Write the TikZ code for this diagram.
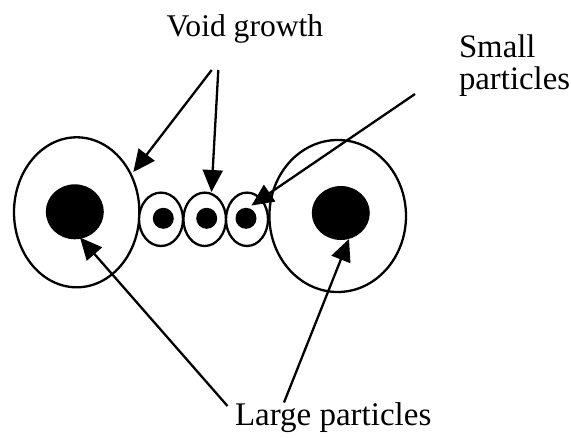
\documentclass[tikz,border=0pt]{standalone}
\usepackage{fontspec}
\setmainfont{Liberation Serif}
\usetikzlibrary{arrows.meta,shapes.geometric}
\begin{document}
\begin{tikzpicture}[x=1pt,y=-1pt,
  void/.style={ellipse,draw,line width=2.3pt,inner sep=0pt,outer sep=0pt,fill=white},
  particle/.style={ellipse,fill=black,inner sep=0pt,outer sep=0pt},
  pointer/.style={line width=2.3pt,-{Triangle[length=22pt,width=20pt]}},
  lbl/.style={anchor=base west,inner sep=0pt,outer sep=0pt,align=left}
]
\useasboundingbox (0,0) rectangle (571,437);
% large voids and particles
\node[void,minimum width=125.4pt,minimum height=150pt] (lvoid) at (76.7,212.3) {};
\node[particle,minimum width=58pt,minimum height=55pt] (lpart) at (74.8,211.8) {};
\node[void,minimum width=136.6pt,minimum height=152pt] (rvoid) at (337.7,216) {};
\node[particle,minimum width=58pt,minimum height=54pt] (rpart) at (340.8,213) {};
% small voids and particles
\node[void,minimum width=44pt,minimum height=53.4pt] (sv1) at (161,219.3) {};
\node[void,minimum width=42.6pt,minimum height=53.4pt] (sv2) at (204.7,219.3) {};
\node[void,minimum width=42pt,minimum height=53.4pt] (sv3) at (247,219.3) {};
\node[particle,minimum width=21pt,minimum height=21pt] (sp1) at (163.3,218.3) {};
\node[particle,minimum width=21pt,minimum height=21pt] (sp2) at (206.7,218.3) {};
\node[particle,minimum width=21pt,minimum height=21pt] (sp3) at (246,218.3) {};
% labels
\node[lbl,font=\fontsize{31.6}{32}\selectfont] (void) at (166.7,36) {Void growth};
\node[lbl,font=\fontsize{32.8}{32}\selectfont] (small) at (459,89) {Small\\particles};
\node[lbl,font=\fontsize{33}{33}\selectfont] (large) at (235,425) {Large particles};
% arrow end points
\coordinate (v1s) at (211.7,70);
\coordinate (v1e) at (133.3,172);
\coordinate (v2s) at (218.3,70);
\coordinate (v2e) at (211.5,192);
\coordinate (sps) at (415,94);
\coordinate (spe) at (251.5,205.5);
\coordinate (l1s) at (227.5,406);
\coordinate (l1e) at (80,237.5);
\coordinate (l2s) at (284,402.5);
\coordinate (l2e) at (349,239);
\draw[pointer] (v1s) -- (v1e);
\draw[pointer] (v2s) -- (v2e);
\draw[pointer] (sps) -- (spe);
\draw[pointer] (l1s) -- (l1e);
\draw[pointer] (l2s) -- (l2e);
\end{tikzpicture}
\end{document}
